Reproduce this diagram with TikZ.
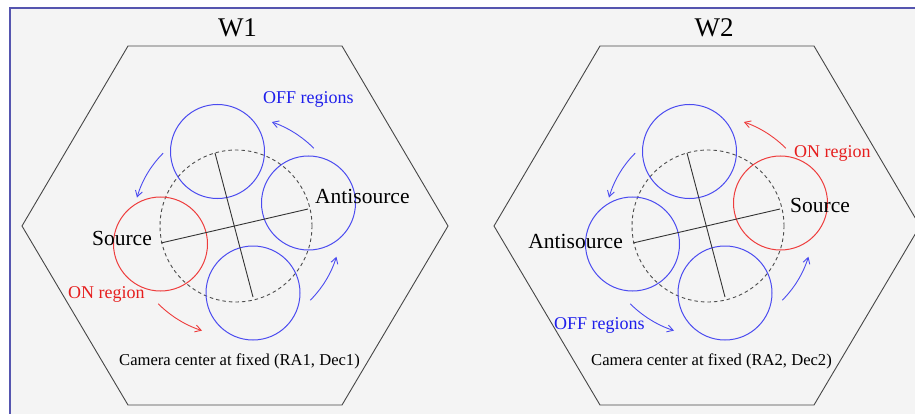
\documentclass[tikz,border=0pt]{standalone}
\usepackage{fontspec}
\setmainfont{Liberation Serif}
\usetikzlibrary{arrows.meta}
\definecolor{framec}{RGB}{85,85,175}
\definecolor{bgc}{RGB}{244,244,244}
\definecolor{offc}{RGB}{75,75,240}
\definecolor{onc}{RGB}{238,60,60}
\definecolor{offt}{RGB}{30,30,235}
\definecolor{ont}{RGB}{230,30,30}
\definecolor{hexc}{RGB}{70,70,70}
\tikzset{
 hexline/.style={draw=hexc, line width=0.9pt},
 fov/.style={draw=black!70, line width=0.9pt, dash pattern=on 3.5pt off 3pt},
 region/.style={circle, minimum size=94pt, inner sep=0pt, line width=1pt},
 offreg/.style={region, draw=offc},
 onreg/.style={region, draw=onc},
 axisline/.style={draw=black!80, line width=0.9pt},
 rot/.style={line width=0.9pt, -{Straight Barb[length=6pt,width=7pt]}},
 titletext/.style={font=\fontsize{27}{30}\selectfont, inner sep=0pt, anchor=base},
 postext/.style={font=\fontsize{21.5}{24}\selectfont, inner sep=0pt},
 labtext/.style={font=\fontsize{18}{20}\selectfont, inner sep=0pt, anchor=base west},
 camtext/.style={font=\fontsize{16.6}{18}\selectfont, inner sep=0pt, anchor=base west},
}
\begin{document}
\begin{tikzpicture}[x=1pt,y=1pt]
\useasboundingbox (0,0) rectangle (915,413);
\fill[white] (0,0) rectangle (915,413);
\clip (0,0) rectangle (915,413);
\fill[bgc] (10,-10) rectangle (930,405);
\draw[framec, line width=2pt] (10,-10) -- (10,405) -- (930,405);

% ---------- Panel W1 ----------
\begin{scope}[shift={(236,187)}]
  \draw[hexline] (-108,180) -- (106,180) -- (212,0) -- (106,-179) -- (-108,-179) -- (-214,0) -- cycle;
  \coordinate (c1) at (0,0);
  \draw[fov] (c1) circle[radius=76pt];
  \node[onreg]  (s1) at (-75.5,-18) {};
  \node[offreg] (t1) at (-18.5,74.5) {};
  \node[offreg] (a1) at (72.5,23) {};
  \node[offreg] (b1) at (17,-67) {};
  \coordinate (ps1) at (-75,-17);
  \coordinate (pa1) at (72,17);
  \coordinate (pt1) at (-21,73);
  \coordinate (pb1) at (17,-71);
  \draw[axisline] (ps1) -- (pa1);
  \draw[axisline] (pt1) -- (pb1);
  \draw[rot, offc] (45:110pt) arc[start angle=45, end angle=71, radius=110pt];
  \draw[rot, offc] (135:103pt) arc[start angle=135, end angle=164, radius=103pt];
  \draw[rot, onc] (225:110pt) arc[start angle=225, end angle=252, radius=110pt];
  \draw[rot, offc] (315:105pt) arc[start angle=315, end angle=343, radius=105pt];
\end{scope}
\node[titletext] (w1) at (237.5,376) {W1};
\node[postext, anchor=base east] (src1) at (152,168) {Source};
\node[postext, anchor=base west] (anti1) at (315,210) {Antisource};
\node[labtext, text=offt] (off1) at (263,309) {OFF regions};
\node[labtext, text=ont] (on1) at (68,115) {ON region};
\node[camtext] (cam1) at (119,48) {Camera center at fixed (RA1, Dec1)};

% ---------- Panel W2 ----------
\begin{scope}[shift={(708,187)}]
  \draw[hexline] (-108,180) -- (106,180) -- (212,0) -- (106,-179) -- (-108,-179) -- (-214,0) -- cycle;
  \coordinate (c2) at (0,0);
  \draw[fov] (c2) circle[radius=76pt];
  \node[offreg] (s2) at (-75.5,-18) {};
  \node[offreg] (t2) at (-18.5,74.5) {};
  \node[onreg]  (a2) at (72.5,23) {};
  \node[offreg] (b2) at (17,-67) {};
  \coordinate (ps2) at (-75,-17);
  \coordinate (pa2) at (72,17);
  \coordinate (pt2) at (-21,73);
  \coordinate (pb2) at (17,-71);
  \draw[axisline] (ps2) -- (pa2);
  \draw[axisline] (pt2) -- (pb2);
  \draw[rot, onc] (45:110pt) arc[start angle=45, end angle=71, radius=110pt];
  \draw[rot, offc] (135:103pt) arc[start angle=135, end angle=164, radius=103pt];
  \draw[rot, offc] (225:110pt) arc[start angle=225, end angle=252, radius=110pt];
  \draw[rot, offc] (315:105pt) arc[start angle=315, end angle=343, radius=105pt];
\end{scope}
\node[titletext] (w2) at (714,376) {W2};
\node[postext, anchor=base east] (anti2) at (623,165) {Antisource};
\node[postext, anchor=base west] (src2) at (790,201) {Source};
\node[labtext, text=ont] (on2) at (794,255) {ON region};
\node[labtext, text=offt] (off2) at (554,84) {OFF regions};
\node[camtext] (cam2) at (591,48) {Camera center at fixed (RA2, Dec2)};
\end{tikzpicture}
\end{document}
